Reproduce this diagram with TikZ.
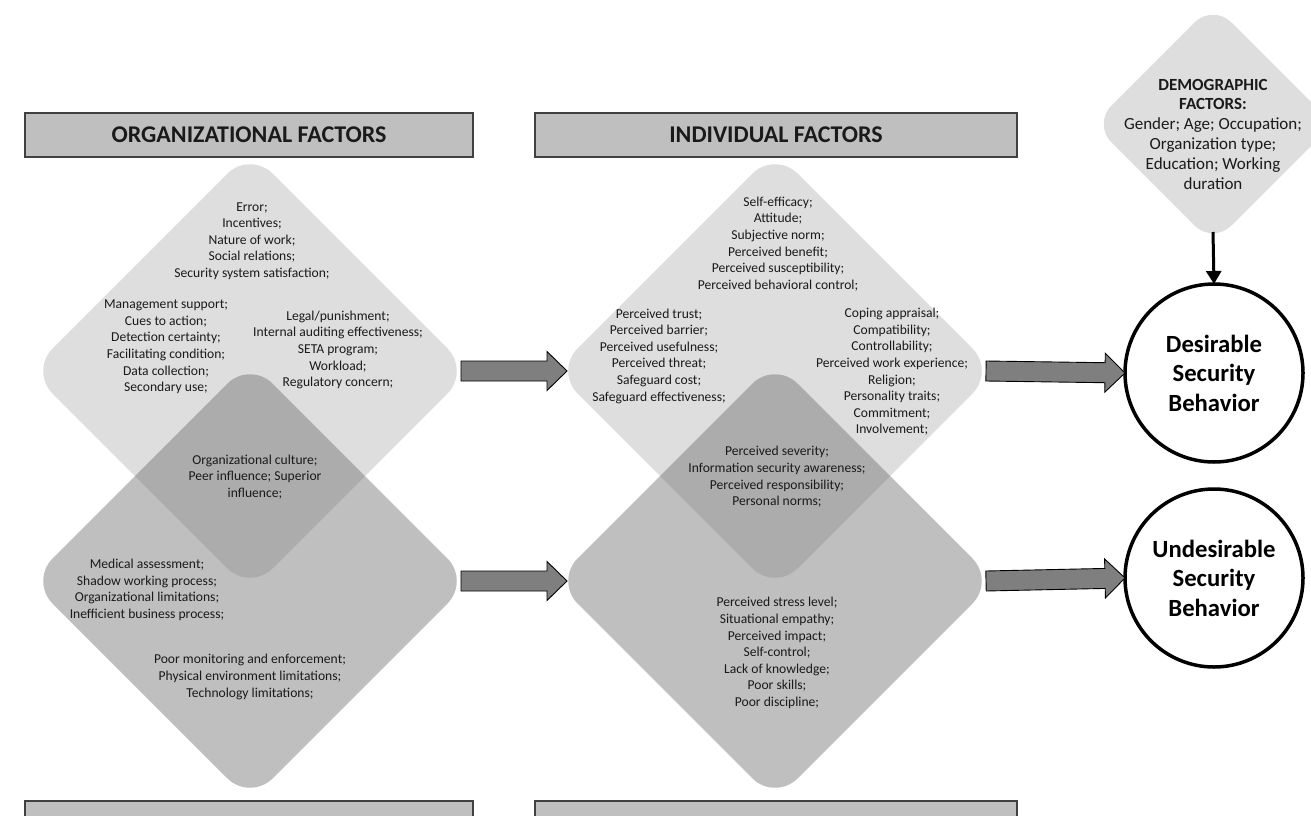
\documentclass[tikz,border=0pt]{standalone}
\usepackage{fontspec}
\setmainfont{Carlito}
\usepackage{xcolor}
\usepackage{tikz}
\usetikzlibrary{
  arrows.meta,
  shapes.geometric,
  calc
}
\definecolor{LayerLight}{HTML}{727272}
\definecolor{LayerDark}{HTML}{BFBFBF}
\definecolor{HeadGray}{HTML}{BFBFBF}
\definecolor{ArrowGray}{HTML}{7F7F7F}
\definecolor{TextDark}{HTML}{1A1A1A}
\tikzset{
  factor/.style={
    diamond,
    minimum width=440pt,
    minimum height=440pt,
    inner sep=0pt,
    outer sep=0pt,
    rounded corners=32pt
  },
  upper/.style={
    factor,
    fill=LayerLight,
    fill opacity=0.234
  },
  lower/.style={
    factor,
    fill=LayerDark
  },
  items/.style={
    align=center,
    inner sep=0pt,
    text=TextDark,
    font=\fontsize{13.6}{16.6}\selectfont
  },
  header/.style={
    draw=black!75,
    line width=1.3pt,
    fill=HeadGray,
    minimum height=44pt,
    inner sep=0pt,
    text=TextDark,
    font=\bfseries\fontsize{24}{29}\selectfont
  },
  outcome/.style={
    circle,
    draw=black,
    line width=3.5pt,
    fill=white,
    minimum size=178pt,
    inner sep=0pt,
    outer sep=0pt,
    align=center,
    font=\bfseries\fontsize{24.7}{29.5}\selectfont
  },
  blockarrow/.style={
    draw=black,
    line width=0.9pt,
    fill=ArrowGray,
    line join=miter
  },
  connection/.style={
    -{Triangle[length=13pt,width=15pt]},
    line width=3pt
  }
}
\newcommand{\blockarrow}[2]{
  \coordinate (#1h) at ($(#2)!20pt!(#1)$);
  \filldraw[blockarrow]
  ($(#1)!10pt!90:(#2)$) --
  ($(#1h)!10pt!90:(#2)$) --
  ($(#1h)!19.5pt!90:(#2)$) --
  (#2) --
  ($(#1h)!19.5pt!-90:(#2)$) --
  ($(#1h)!10pt!-90:(#2)$) --
  ($(#1)!10pt!-90:(#2)$) --
  cycle;
}

\begin{document}
\begin{tikzpicture}[x=1pt,y=-1pt]

  \useasboundingbox (0,0) rectangle (1311,816);
  \clip (0,0) rectangle (1311,816);

  \node[lower] at (250,581) (orgbot) {};
  \node[lower] at (775,581) (indbot) {};
  \node[upper] at (250,371) (orgtop) {};
  \node[upper] at (775,371) (indtop) {};
  \node[
    upper,
    minimum width=240pt,
    minimum height=240pt,
    rounded corners=26pt
  ] at (1213,124) (demo) {};

  \node[header, minimum width=448pt] at (249,135) (orghead) {
    ORGANIZATIONAL FACTORS
  };
  \node[header, minimum width=482pt] at (776,135) (indhead) {
    INDIVIDUAL FACTORS
  };
  \node[header, minimum width=448pt] at (249,823) (orgfoot) {};
  \node[header, minimum width=482pt] at (776,823) (indfoot) {};

  \node[items] at (252,241) (orgcore) {
    Error;\\
    Incentives;\\
    Nature of work;\\
    Social relations;\\
    Security system satisfaction;
  };
  \node[items] at (166,347) (orgleft) {
    Management support;\\
    Cues to action;\\
    Detection certainty;\\
    Facilitating condition;\\
    Data collection;\\
    Secondary use;
  };
  \node[items] at (338,350) (orgright) {
    Legal/punishment;\\
    Internal auditing effectiveness;\\
    SETA program;\\
    Workload;\\
    Regulatory concern;
  };
  \node[items] at (255,477) (orgshared) {
    Organizational culture;\\
    Peer influence; Superior\\
    influence;
  };
  \node[items] at (147,590) (orglimits) {
    Medical assessment;\\
    Shadow working process;\\
    Organizational limitations;\\
    Inefficient business process;
  };
  \node[items] at (250,677) (orgpoor) {
    Poor monitoring and enforcement;\\
    Physical environment limitations;\\
    Technology limitations;
  };

  \node[items] at (778,244) (indcore) {
    Self-efficacy;\\
    Attitude;\\
    Subjective norm;\\
    Perceived benefit;\\
    Perceived susceptibility;\\
    Perceived behavioral control;
  };
  \node[items] at (659,356) (indleft) {
    Perceived trust;\\
    Perceived barrier;\\
    Perceived usefulness;\\
    Perceived threat;\\
    Safeguard cost;\\
    Safeguard effectiveness;
  };
  \node[items] at (892,372) (indright) {
    Coping appraisal;\\
    Compatibility;\\
    Controllability;\\
    Perceived work experience;\\
    Religion;\\
    Personality traits;\\
    Commitment;\\
    Involvement;
  };
  \node[items] at (777,477) (indshared) {
    Perceived severity;\\
    Information security awareness;\\
    Perceived responsibility;\\
    Personal norms;
  };
  \node[items] at (777,653) (indpoor) {
    Perceived stress level;\\
    Situational empathy;\\
    Perceived impact;\\
    Self-control;\\
    Lack of knowledge;\\
    Poor skills;\\
    Poor discipline;
  };

  \node[
    items,
    font=\fontsize{17}{19.8}\selectfont
  ] at (1213,134) (demotext) {
    \textbf{DEMOGRAPHIC}\\
    \textbf{FACTORS:}\\
    Gender; Age; Occupation;\\
    Organization type;\\
    Education; Working\\
    duration
  };

  \node[outcome] at (1214,373) (desire) {
    Desirable\\
    Security\\
    Behavior
  };
  \node[outcome] at (1214,578) (undesire) {
    Undesirable\\
    Security\\
    Behavior
  };

  \coordinate (orgup) at ($(orgtop.east)+(-9,0)$);
  \coordinate (indupin) at ($(indtop.west)+(12,0)$);
  \coordinate (orglow) at ($(orgbot.east)+(-9,0)$);
  \coordinate (indlowin) at ($(indbot.west)+(12,0)$);
  \coordinate (indup) at ($(indtop.east)+(-9,0)$);
  \coordinate (indlow) at ($(indbot.east)+(-9,0)$);
  \coordinate (demotip) at ($(demo.south)+(0,-12)$);

  \blockarrow{orgup}{indupin}
  \blockarrow{orglow}{indlowin}
  \blockarrow{indup}{desire.west}
  \blockarrow{indlow}{undesire.west}

  \draw[connection]
  (demotip) --
  (desire.north);

\end{tikzpicture}
\end{document}
